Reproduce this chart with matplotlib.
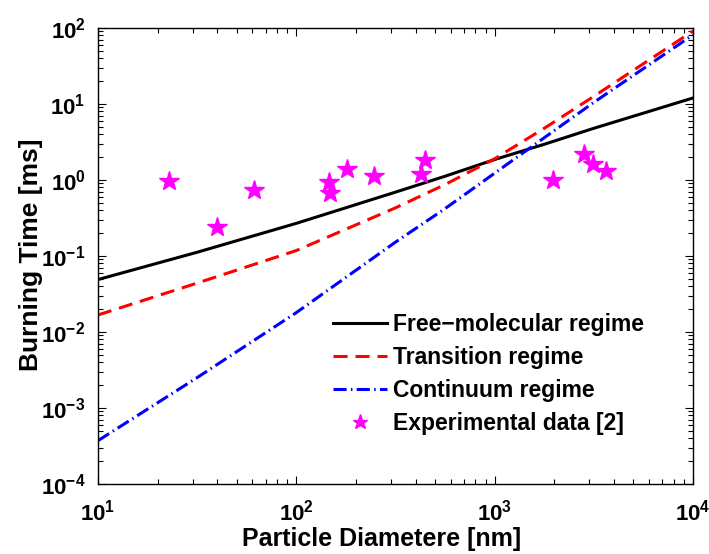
import matplotlib
matplotlib.use("Agg")
import matplotlib.pyplot as plt
import numpy as np
from matplotlib.ticker import LogLocator, FuncFormatter, NullFormatter

plt.rcParams['font.family'] = ['Liberation Sans', 'DejaVu Sans']
plt.rcParams['font.weight'] = 'bold'
plt.rcParams['mathtext.fontset'] = 'custom'
plt.rcParams['mathtext.rm'] = 'Liberation Sans:bold'
plt.rcParams['mathtext.bf'] = 'Liberation Sans:bold'
plt.rcParams['mathtext.it'] = 'Liberation Sans:bold'

# ---- data ----
diam = [10, 31.6, 100, 316, 562, 1000, 1778, 3162, 10000]
free_molecular = [0.049, 0.112, 0.269, 0.692, 1.12, 1.86, 2.95, 4.79, 12.0]
transition = [0.01675, 0.0440, 0.118, 0.430, 0.871, 1.905, 4.79, 12.6, 91.2]
continuum = [3.72e-4, 2.51e-3, 0.018, 0.152, 0.42, 1.23, 3.6, 10.5, 81.3]

exp_d = [22.8, 39.8, 61, 146, 148, 179.5, 245, 424, 443, 1960, 2806, 3119, 3625]
exp_t = [0.97, 0.24, 0.74, 0.94, 0.67, 1.40, 1.13, 1.2, 1.83, 1.0, 2.2, 1.62, 1.31]

labels = ['Free\u2212molecular regime', 'Transition regime',
          'Continuum regime', 'Experimental data [2]']
xlabel = 'Particle Diametere [nm]'
ylabel = 'Burning Time [ms]'

fig = plt.figure(figsize=(7.09, 5.54), dpi=100)
ax = fig.add_axes([98/709, 1-484/554, (693-98)/709, (484-28)/554])

lw = 2.2
ax.plot(diam, free_molecular, color='black', lw=lw, label=labels[0])
ax.plot(diam, transition, color='red', lw=lw, dashes=(4.6, 2.6), label=labels[1])
ax.plot(diam, continuum, color='blue', lw=lw, dashes=(4.3, 1.4, 0.5, 1.4), label=labels[2])
ax.plot(exp_d, exp_t, linestyle='none', marker='*', ms=15, color='magenta',
        markeredgecolor='magenta', label=labels[3])

ax.set_xscale('log')
ax.set_yscale('log')
ax.set_xlim(10, 1e4)
ax.set_ylim(1e-4, 1e2)

fmt = FuncFormatter(lambda v, p: r'$\mathbf{10^{%d}}$' % int(round(np.log10(v))))
ax.xaxis.set_major_locator(LogLocator(base=10, numticks=10))
ax.yaxis.set_major_locator(LogLocator(base=10, numticks=10))
ax.xaxis.set_minor_locator(LogLocator(base=10, subs=np.arange(2, 10), numticks=20))
ax.yaxis.set_minor_locator(LogLocator(base=10, subs=np.arange(2, 10), numticks=20))
ax.xaxis.set_major_formatter(fmt)
ax.yaxis.set_major_formatter(fmt)
ax.xaxis.set_minor_formatter(NullFormatter())
ax.yaxis.set_minor_formatter(NullFormatter())

ax.tick_params(which='both', direction='in', top=True, right=True, labelsize=16, width=0.8)
ax.tick_params(which='major', length=6)
ax.tick_params(axis='x', which='major', pad=11)
ax.tick_params(axis='y', which='major', pad=9)
ax.tick_params(which='minor', length=3.5)
for s in ax.spines.values():
    s.set_linewidth(1.0)

ax.set_xlabel(xlabel, fontsize=18, fontweight='bold')
ax.set_ylabel(ylabel, fontsize=19, fontweight='bold')
ax.xaxis.set_label_coords(0.476, -0.094)
ax.yaxis.set_label_coords(-0.092, 0.503)

leg = ax.legend(loc='upper left', bbox_to_anchor=((333-98)/595, (484-313)/456),
                frameon=False, fontsize=16.5, handlelength=2.36, handletextpad=0.26,
                labelspacing=0.44, borderpad=0, borderaxespad=0, markerscale=0.75)
for t in leg.get_texts():
    t.set_fontweight('bold')

fig.savefig('out.png', dpi=100)
